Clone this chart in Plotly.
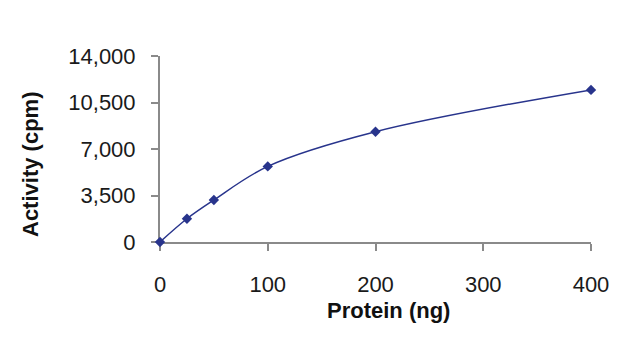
import plotly.graph_objects as go

protein_ng = [0, 25, 50, 100, 200, 400]
activity_cpm = [0, 1750, 3160, 5690, 8300, 11450]

x_ticks = [0, 100, 200, 300, 400]
x_tick_labels = ["0", "100", "200", "300", "400"]
y_ticks = [0, 3500, 7000, 10500, 14000]
y_tick_labels = ["0", "3,500", "7,000", "10,500", "14,000"]

line_color = "#28348c"
axis_color = "#8a8a8a"
font_family = "Liberation Sans, Arial, sans-serif"

fig = go.Figure()
fig.add_trace(go.Scatter(
    x=protein_ng, y=activity_cpm, mode="lines+markers",
    line=dict(color=line_color, width=1.5, shape="spline", smoothing=1.0),
    marker=dict(symbol="diamond", size=8, color=line_color),
    cliponaxis=False, showlegend=False,
))

fig.update_layout(
    width=640, height=354,
    margin=dict(l=160, r=49, t=56, b=112),
    paper_bgcolor="white", plot_bgcolor="white",
    font=dict(family=font_family, size=22, color="#1a1a1a"),
    xaxis=dict(
        range=[0, 400], tickvals=x_ticks, ticktext=x_tick_labels,
        showline=True, linecolor=axis_color, linewidth=2,
        ticks="outside", ticklen=7, tickcolor=axis_color, tickwidth=1.5,
        showgrid=False, zeroline=False, ticklabelstandoff=15,
        layer="below traces",
    ),
    yaxis=dict(
        range=[0, 14000], tickvals=y_ticks, ticktext=y_tick_labels,
        showline=True, linecolor=axis_color, linewidth=2,
        ticks="outside", ticklen=7, tickcolor=axis_color, tickwidth=1.5,
        showgrid=False, zeroline=False, ticklabelstandoff=11,
        layer="below traces",
    ),
    annotations=[
        dict(text="<b>Protein (ng)</b>", xref="paper", yref="paper",
             x=(388 - 160) / 431, y=-(310 - 242) / 186, xanchor="center", yanchor="middle",
             showarrow=False, font=dict(size=22, color="#111111")),
        dict(text="<b>Activity (cpm)</b>", xref="paper", yref="paper",
             x=-(160 - 30) / 431, y=(242 - 165) / 186, xanchor="center", yanchor="middle",
             textangle=-90, showarrow=False, font=dict(size=22, color="#111111")),
    ],
)

fig.write_html("out.html")
